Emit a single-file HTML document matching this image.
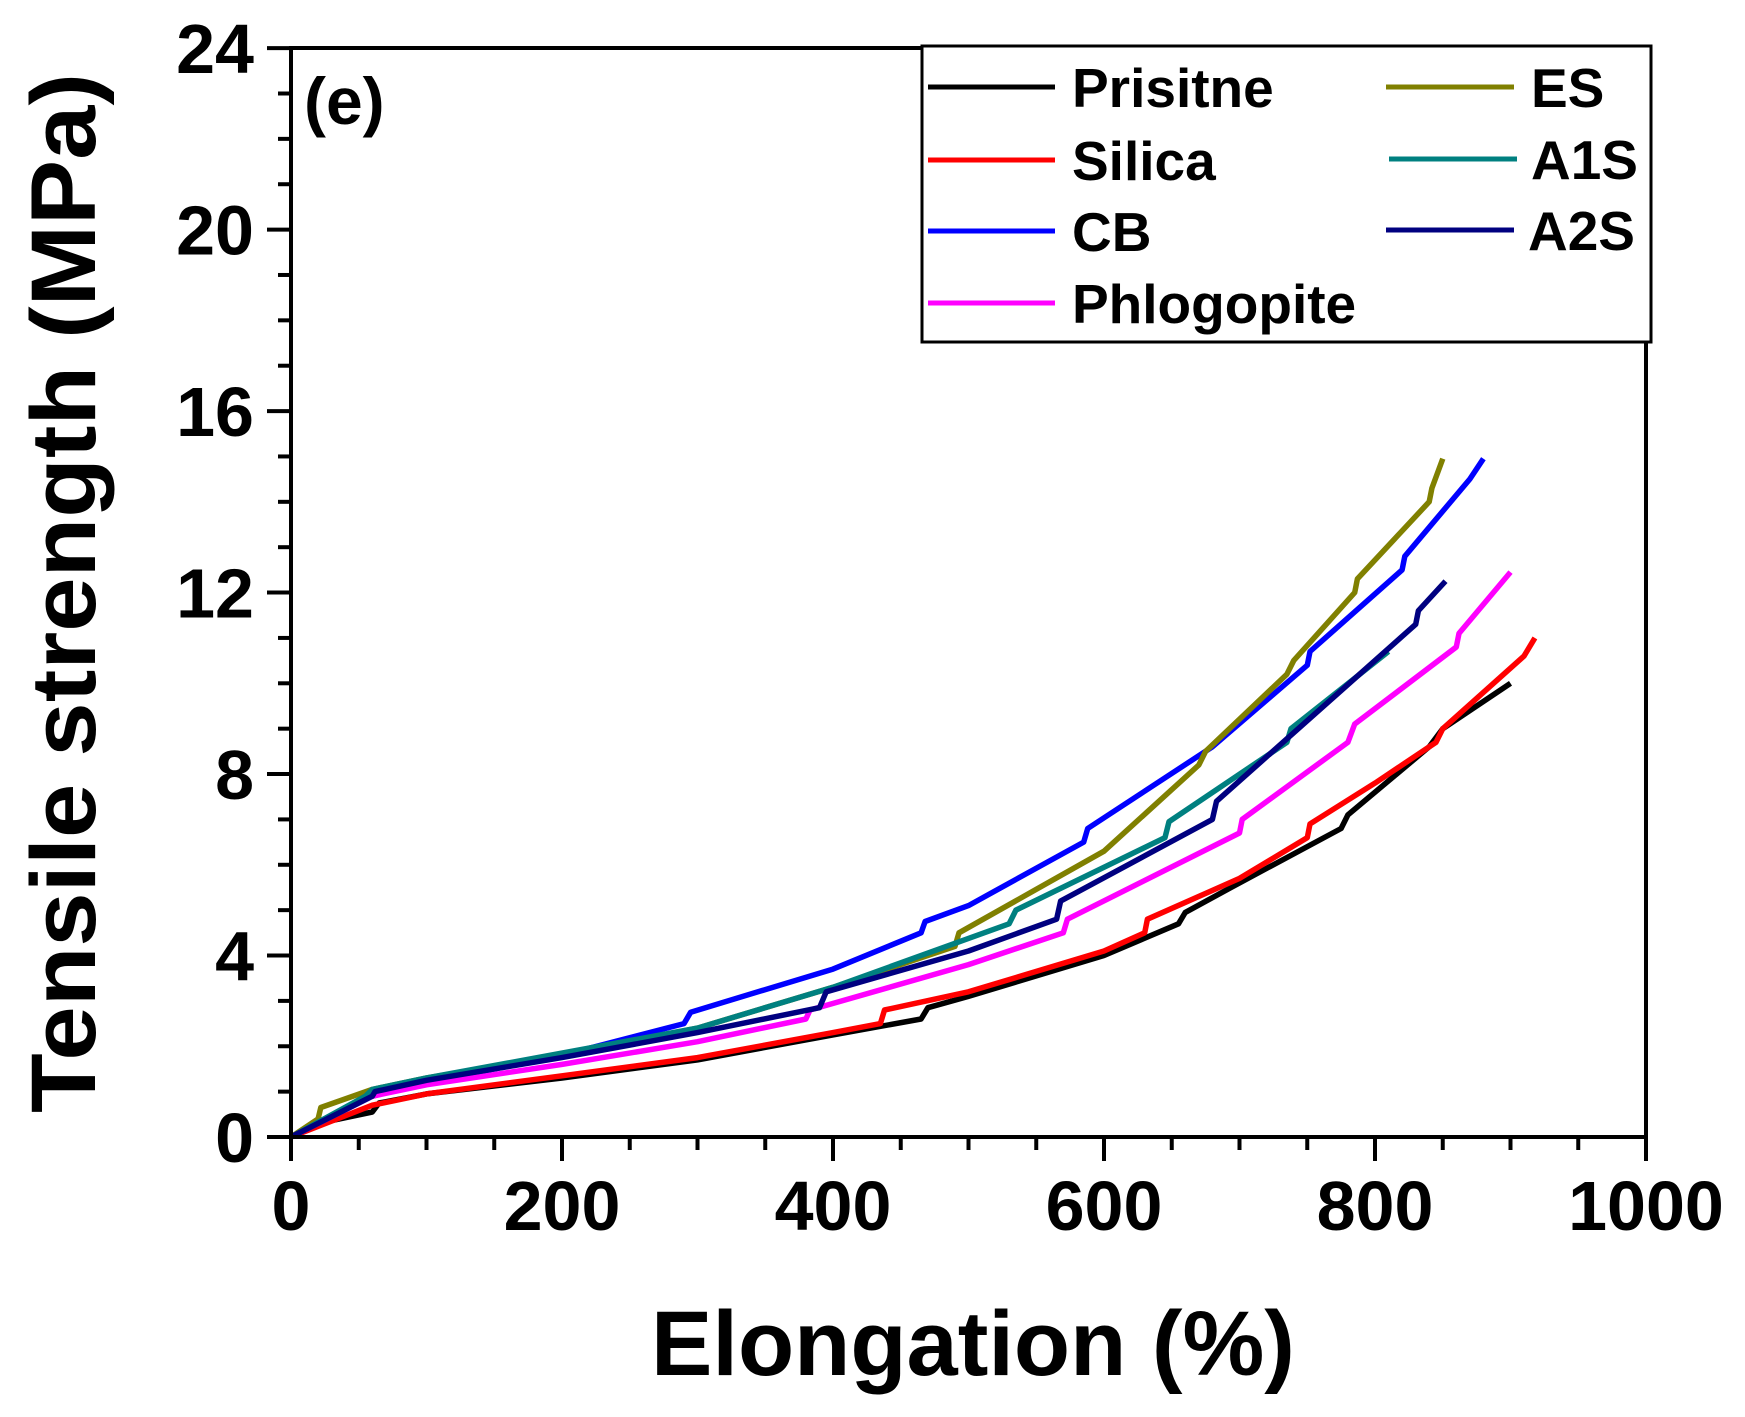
<!DOCTYPE html>
<html><head><meta charset="utf-8"><style>
html,body{margin:0;padding:0;background:#fff}
svg{display:block}
text{font-family:"Liberation Sans",Arial,sans-serif;font-weight:bold;fill:#000}
</style></head><body>
<svg id="s" width="1745" height="1417" viewBox="0 0 1745 1417" xmlns="http://www.w3.org/2000/svg">
<g id="curves" fill="none" stroke-width="5.5" stroke-linejoin="round"></g>
<rect x="291" y="48" width="1355" height="1089" fill="none" stroke="#000" stroke-width="4"/>
<g id="ticks" stroke="#000" stroke-width="4"></g>
<g id="labels" font-size="70"></g>
<text x="304" y="124" font-size="66">(e)</text>
<rect x="922" y="46" width="729" height="296" fill="#fff" stroke="#000" stroke-width="3"/>
<g stroke-width="5">
<line x1="928" y1="87" x2="1055" y2="87" stroke="#000"/>
<line x1="928" y1="160" x2="1055" y2="160" stroke="#ff0000"/>
<line x1="928" y1="231" x2="1055" y2="231" stroke="#0000ff"/>
<line x1="928" y1="303" x2="1055" y2="303" stroke="#ff00ff"/>
<line x1="1386" y1="87" x2="1514" y2="87" stroke="#808000"/>
<line x1="1389" y1="159" x2="1517" y2="159" stroke="#008080"/>
<line x1="1386" y1="230" x2="1514" y2="230" stroke="#000080"/>
</g>
<g font-size="55">
<text x="1072" y="107">Prisitne</text>
<text x="1072" y="180">Silica</text>
<text x="1072" y="251">CB</text>
<text x="1072" y="323">Phlogopite</text>
<text x="1531" y="107">ES</text>
<text x="1531" y="179">A1S</text>
<text x="1528" y="250">A2S</text>
</g>
<text x="973" y="1375" font-size="92" text-anchor="middle">Elongation (%)</text>
<text transform="translate(95,593) rotate(-90)" font-size="92" text-anchor="middle" textLength="1040" lengthAdjust="spacingAndGlyphs">Tensile strength (MPa)</text>
</svg>
<script>
var X=function(v){return 291+v*1.355},Y=function(v){return 1137-v*45.37};
var NS="http://www.w3.org/2000/svg";
var data=[
["#000",[[0,0],[20,0.3],[60,0.55],[65,0.75],[100,0.95],[200,1.3],[300,1.7],[400,2.25],[465,2.6],[470,2.85],[500,3.1],[600,4.0],[655,4.7],[660,4.95],[700,5.6],[775,6.8],[780,7.1],[840,8.6],[850,9.0],[900,10.0]]],
["#ff0000",[[0,0],[60,0.7],[100,0.95],[200,1.35],[300,1.75],[400,2.3],[435,2.5],[438,2.8],[500,3.2],[600,4.1],[630,4.5],[632,4.8],[700,5.7],[750,6.6],[752,6.9],[800,7.8],[845,8.7],[850,9.0],[910,10.6],[918,11.0]]],
["#0000ff",[[0,0],[60,0.9],[100,1.2],[200,1.8],[290,2.5],[295,2.75],[400,3.7],[465,4.5],[468,4.75],[500,5.1],[585,6.5],[588,6.8],[680,8.6],[750,10.4],[752,10.7],[820,12.5],[822,12.8],[870,14.5],[880,14.95]]],
["#ff00ff",[[0,0],[60,0.9],[100,1.15],[200,1.6],[300,2.1],[380,2.6],[383,2.8],[500,3.8],[570,4.5],[573,4.8],[700,6.7],[702,7.0],[780,8.7],[785,9.1],[860,10.8],[862,11.1],[900,12.45]]],
["#808000",[[0,0],[20,0.4],[22,0.65],[60,1.05],[100,1.3],[200,1.8],[300,2.4],[400,3.3],[490,4.2],[493,4.5],[600,6.3],[670,8.2],[675,8.5],[735,10.2],[740,10.5],[785,12.0],[787,12.3],[840,14.0],[842,14.3],[850,14.95]]],
["#008080",[[0,0],[55,0.9],[60,1.05],[100,1.3],[200,1.85],[300,2.4],[400,3.3],[530,4.7],[535,5.0],[645,6.6],[648,6.95],[735,8.7],[738,9.0],[810,10.7]]],
["#000080",[[0,0],[60,0.9],[62,1.0],[100,1.25],[200,1.75],[300,2.3],[390,2.85],[395,3.2],[500,4.1],[565,4.8],[568,5.2],[680,7.0],[683,7.4],[830,11.3],[832,11.6],[852,12.25]]]];
var g=document.getElementById("curves");
data.forEach(function(d){var p=document.createElementNS(NS,"polyline");
p.setAttribute("points",d[1].map(function(q){return X(q[0]).toFixed(1)+","+Y(q[1]).toFixed(1)}).join(" "));
p.setAttribute("stroke",d[0]);g.appendChild(p);});
var t=document.getElementById("ticks"),l=document.getElementById("labels");
function line(a,b,c,e){var k=document.createElementNS(NS,"line");k.setAttribute("x1",a);k.setAttribute("y1",b);k.setAttribute("x2",c);k.setAttribute("y2",e);t.appendChild(k);}
function txt(x,y,s,anc){var k=document.createElementNS(NS,"text");k.setAttribute("x",x);k.setAttribute("y",y);k.setAttribute("text-anchor",anc);k.textContent=s;l.appendChild(k);}
for(var i=0;i<=24;i++){var y=Y(i),maj=i%4==0;line(291-(maj?24:13),y,291,y);if(maj)txt(254,y+25,String(i),"end");}
for(var j=0;j<=20;j++){var x=X(j*50),maj=j%4==0;line(x,1137,x,1137+(maj?24:13));if(maj)txt(x,1230,String(j*50),"middle");}
</script>
</body></html>
